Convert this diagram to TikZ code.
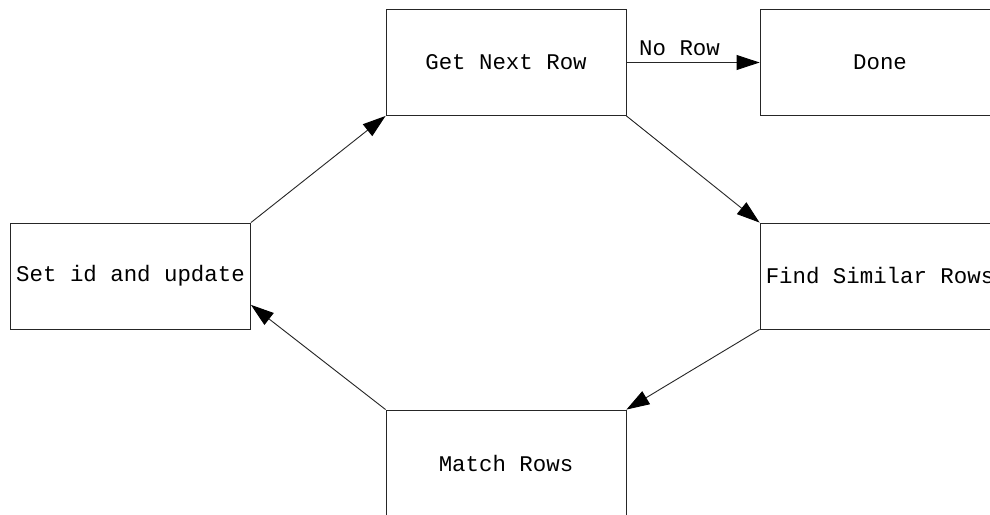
\documentclass[tikz,border=0pt]{standalone}
\usepackage{fontspec}
\setmonofont{Liberation Mono}
\usetikzlibrary{arrows.meta,calc}
\begin{document}
\begin{tikzpicture}[x=1pt,y=-1pt,
  stepbox/.style={draw=black!85,line width=0.9pt,minimum width=240pt,minimum height=106pt,inner sep=0pt,font=\ttfamily\fontsize{22.4}{26}\selectfont},
  conn/.style={draw=black!85,line width=0.9pt,-{Triangle[length=23pt,width=15pt,color=black]}},
  lbl/.style={font=\ttfamily\fontsize{22.4}{26}\selectfont}]
\useasboundingbox (0,0) rectangle (990,514);
\fill[white] (0,0) rectangle (990,514);
\node[stepbox] (get) at (506,62.5) {Get Next Row};
\node[stepbox] (done) at (880,62.5) {Done};
\node[stepbox] (find) at (880,276) {Find Similar Rows};
\node[stepbox] (set) at (130.5,276) {Set id and update};
\node[stepbox] (match) at (506,463) {Match Rows};
\draw[conn] (get.east) -- (done.west);
\node[lbl,anchor=base,inner sep=0pt] (norow) at (679.5,55) {No Row};
\draw[conn] (get.south east) -- (find.north west);
\draw[conn] (find.south west) -- (match.north east);
\coordinate (setin) at ($(set.north east)!0.77!(set.south east)$);
\draw[conn] (match.north west) -- (setin);
\draw[conn] (set.north east) -- (get.south west);
\end{tikzpicture}
\end{document}
